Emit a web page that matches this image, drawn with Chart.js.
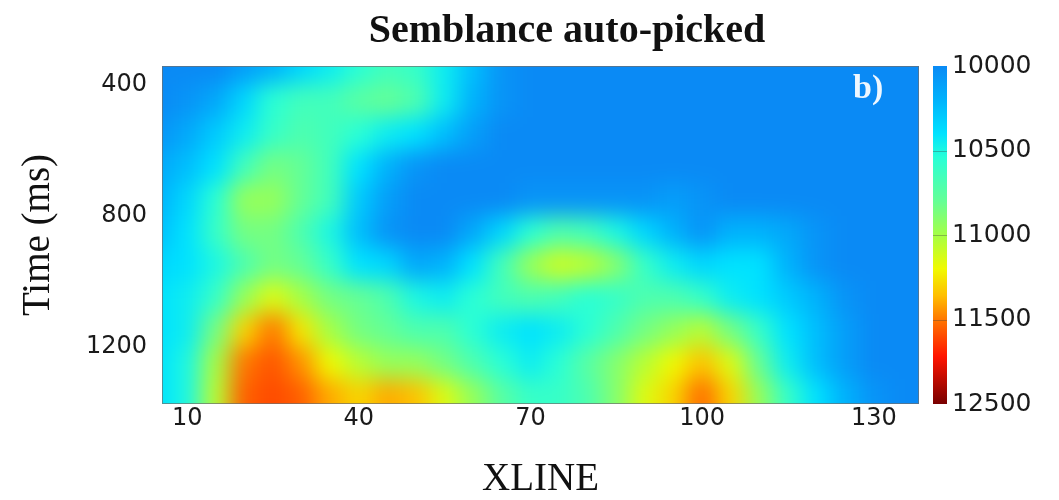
<!DOCTYPE html>
<html>
<head>
<meta charset="utf-8">
<script src="https://cdn.jsdelivr.net/npm/chart.js@4/dist/chart.umd.min.js"></script>
<style>
  html, body { margin: 0; padding: 0; background: #ffffff; }
  #wrap { width: 1059px; height: 500px; }
</style>
</head>
<body>
<div id="wrap"><canvas id="chart" width="1059" height="500"></canvas></div>
<script>
// Grid of picked velocities: one row per time sample, one column per crossline
const xlines = [5, 10, 15, 20, 25, 30, 35, 40, 45, 50, 55, 60, 65, 70, 75, 80, 85, 90, 95, 100, 105, 110, 115, 120, 125, 130, 135, 140];
const times = [350, 450, 550, 650, 750, 850, 950, 1050, 1150, 1250, 1350];

const t0350 = [10000, 10000, 10000, 10100, 10200, 10350, 10450, 10550, 10650, 10600, 10450, 10250, 10050, 10000, 10000, 10000, 10000, 10000, 10000, 10000, 10000, 10000, 10000, 10000, 10000, 10000, 10000, 10000];
const t0450 = [10000, 10050, 10150, 10350, 10550, 10650, 10650, 10750, 10800, 10700, 10450, 10200, 10050, 10000, 10000, 10000, 10000, 10000, 10000, 10000, 10000, 10000, 10000, 10000, 10000, 10000, 10000, 10000];
const t0550 = [10050, 10150, 10300, 10450, 10600, 10700, 10650, 10550, 10450, 10400, 10250, 10100, 10000, 10000, 10000, 10000, 10000, 10000, 10000, 10000, 10000, 10000, 10000, 10000, 10000, 10000, 10000, 10000];
const t0650 = [10150, 10250, 10400, 10650, 10850, 10800, 10650, 10400, 10200, 10050, 10000, 10000, 10000, 10000, 10000, 10000, 10000, 10000, 10000, 10000, 10000, 10000, 10000, 10000, 10000, 10000, 10000, 10000];
const t0750 = [10200, 10350, 10550, 10950, 10950, 10800, 10650, 10300, 10100, 10000, 10000, 10000, 10000, 10050, 10050, 10050, 10050, 10050, 10100, 10050, 10000, 10000, 10000, 10000, 10000, 10000, 10000, 10000];
const t0850 = [10250, 10400, 10600, 10850, 10850, 10700, 10500, 10250, 10050, 10000, 10000, 10150, 10350, 10550, 10700, 10650, 10500, 10350, 10200, 10050, 10200, 10200, 10150, 10050, 10000, 10000, 10000, 10000];
const t0950 = [10350, 10400, 10500, 10700, 10850, 10800, 10600, 10400, 10350, 10150, 10200, 10400, 10650, 10950, 11100, 11050, 10900, 10600, 10450, 10350, 10400, 10400, 10200, 10050, 10000, 10000, 10000, 10000];
const t1050 = [10400, 10450, 10600, 10950, 11150, 11000, 10850, 10800, 10700, 10500, 10450, 10550, 10650, 10700, 10650, 10550, 10600, 10700, 10700, 10600, 10450, 10400, 10300, 10200, 10050, 10000, 10000, 10000];
const t1150 = [10400, 10450, 10850, 11300, 11500, 11250, 11000, 10850, 10800, 10700, 10700, 10550, 10450, 10400, 10450, 10550, 10700, 10850, 10950, 11050, 10850, 10600, 10400, 10250, 10100, 10000, 10000, 10000];
const t1250 = [10400, 10500, 11000, 11500, 11650, 11450, 11200, 11050, 10950, 10950, 10850, 10700, 10550, 10450, 10550, 10750, 10900, 11050, 11200, 11350, 11150, 10800, 10450, 10250, 10100, 10000, 10000, 10000];
const t1350 = [10400, 10500, 11050, 11600, 11700, 11600, 11400, 11300, 11400, 11350, 11150, 10950, 10750, 10600, 10600, 10700, 10900, 11150, 11300, 11550, 11300, 10950, 10600, 10400, 10200, 10050, 10000, 10000];

const velocityRows = [t0350, t0450, t0550, t0650, t0750, t0850, t0950, t1050, t1150, t1250, t1350];

const xTicks = [10, 40, 70, 100, 130];
const yTicks = [400, 800, 1200];
const cbarValues = [10000, 10500, 11000, 11500, 12500];
const cbarLabels = cbarValues.map(String);

// Colour ramp (position along the colour bar, rgb)
const rampStops = [
  [0.00, [10, 138, 245]],
  [0.10, [0, 178, 252]],
  [0.20, [0, 226, 255]],
  [0.27, [40, 255, 215]],
  [0.40, [100, 255, 150]],
  [0.50, [165, 255, 70]],
  [0.60, [240, 250, 0]],
  [0.68, [255, 190, 0]],
  [0.76, [255, 110, 0]],
  [0.86, [255, 20, 0]],
  [1.00, [120, 0, 0]]
];

function rampColor(f) {
  f = Math.max(0, Math.min(1, f));
  for (let i = 1; i < rampStops.length; i++) {
    const [p1, c1] = rampStops[i];
    const [p0, c0] = rampStops[i - 1];
    if (f <= p1) {
      const k = (f - p0) / (p1 - p0);
      const c = c0.map((v, j) => Math.round(v + (c1[j] - v) * k));
      return 'rgb(' + c.join(',') + ')';
    }
  }
  return 'rgb(' + rampStops[rampStops.length - 1][1].join(',') + ')';
}

// The colour bar ticks are evenly spaced, so map a value piecewise between them
function barFraction(v) {
  const n = cbarValues.length - 1;
  if (v <= cbarValues[0]) return 0;
  for (let i = 1; i <= n; i++) {
    if (v <= cbarValues[i]) {
      return (i - 1 + (v - cbarValues[i - 1]) / (cbarValues[i] - cbarValues[i - 1])) / n;
    }
  }
  return 1;
}

const cells = [];
times.forEach((t, i) => {
  xlines.forEach((x, j) => cells.push({ x: x, y: t, v: velocityRows[i][j] }));
});

const halfX = (xlines[1] - xlines[0]) / 2;
const halfY = (times[1] - times[0]) / 2;

// Paints the velocity cells through the chart scales, then softens them
const heatmapPlugin = {
  id: 'heatmap',
  beforeDatasetsDraw(chart) {
    const { ctx, chartArea: a } = chart;
    const xs = chart.scales.x, ys = chart.scales.y;
    const off = document.createElement('canvas');
    off.width = chart.width;
    off.height = chart.height;
    const o = off.getContext('2d');
    const bleed = 45;
    chart.data.datasets[0].data.forEach(p => {
      let x0 = xs.getPixelForValue(p.x - halfX);
      let x1 = xs.getPixelForValue(p.x + halfX);
      let y0 = ys.getPixelForValue(p.y - halfY);
      let y1 = ys.getPixelForValue(p.y + halfY);
      if (p.x === xlines[0]) x0 -= bleed;
      if (p.x === xlines[xlines.length - 1]) x1 += bleed;
      if (p.y === times[0]) y0 -= bleed;
      if (p.y === times[times.length - 1]) y1 += bleed;
      o.fillStyle = rampColor(barFraction(p.v));
      o.fillRect(Math.floor(x0), Math.floor(y0), Math.ceil(x1 - x0) + 1, Math.ceil(y1 - y0) + 1);
    });
    ctx.save();
    ctx.beginPath();
    ctx.rect(a.left, a.top, a.right - a.left, a.bottom - a.top);
    ctx.clip();
    ctx.filter = 'blur(11px)';
    ctx.drawImage(off, 0, 0);
    ctx.restore();
  },
  afterDraw(chart) {
    const { ctx, chartArea: a } = chart;
    const cb = chart.scales.cbar;

    // plot frame
    ctx.save();
    ctx.strokeStyle = 'rgba(110,110,110,0.7)';
    ctx.lineWidth = 1;
    ctx.strokeRect(a.left + 0.5, a.top + 0.5, a.right - a.left - 1, a.bottom - a.top - 1);
    ctx.restore();

    // panel letter
    ctx.save();
    ctx.font = 'bold 34px "Liberation Serif"';
    ctx.fillStyle = '#eef7ff';
    ctx.textAlign = 'left';
    ctx.textBaseline = 'alphabetic';
    ctx.fillText('b)', a.right - 66, a.top + 32);
    ctx.restore();

    // colour bar, lowest value at the top
    const bx = cb.left + 14, bw = 14;
    const yStart = cb.getPixelForValue(0);
    const yEnd = cb.getPixelForValue(cbarLabels.length - 1);
    const top = Math.min(yStart, yEnd), bottom = Math.max(yStart, yEnd);
    const g = ctx.createLinearGradient(0, yStart, 0, yEnd);
    rampStops.forEach(([p]) => g.addColorStop(p, rampColor(p)));
    ctx.save();
    ctx.fillStyle = g;
    ctx.fillRect(bx, top, bw, bottom - top);
    ctx.strokeStyle = 'rgba(60,60,60,0.35)';
    ctx.lineWidth = 1;
    for (let i = 1; i < cbarLabels.length - 1; i++) {
      const y = Math.round(cb.getPixelForValue(i)) + 0.5;
      ctx.beginPath();
      ctx.moveTo(bx, y);
      ctx.lineTo(bx + bw, y);
      ctx.stroke();
    }
    ctx.restore();
  }
};

const tickFont = { family: 'DejaVu Sans', size: 24 };

new Chart(document.getElementById('chart'), {
  type: 'scatter',
  data: {
    datasets: [{
      label: 'Velocity',
      data: cells,
      pointRadius: 0,
      pointHoverRadius: 0,
      showLine: false
    }]
  },
  options: {
    responsive: false,
    animation: false,
    events: [],
    layout: { padding: { left: 75, right: 0, top: 0, bottom: 0 } },
    plugins: {
      legend: { display: false },
      tooltip: { enabled: false },
      title: {
        display: true,
        text: 'Semblance auto-picked',
        color: '#111111',
        font: { family: 'Liberation Serif', size: 40, weight: 'bold' },
        padding: { top: 8, bottom: 10 }
      }
    },
    scales: {
      x: {
        type: 'linear',
        min: 5.6,
        max: 137.9,
        afterBuildTicks: s => { s.ticks = xTicks.map(v => ({ value: v })); },
        afterFit: s => { s.height = 96; },
        ticks: { font: tickFont, color: '#1a1a1a', padding: 0, maxRotation: 0, autoSkip: false, callback: v => String(v) },
        grid: { display: false, drawTicks: false },
        border: { display: false },
        title: {
          display: true,
          text: 'XLINE',
          color: '#111111',
          font: { family: 'Liberation Serif', size: 39 },
          padding: { top: 0, bottom: -3 }
        }
      },
      y: {
        type: 'linear',
        reverse: true,
        min: 342,
        max: 1374,
        afterBuildTicks: s => { s.ticks = yTicks.map(v => ({ value: v })); },
        afterFit: s => { s.width = 87; },
        ticks: { font: tickFont, color: '#1a1a1a', padding: 15, autoSkip: false, callback: v => String(v) },
        grid: { display: false, drawTicks: false },
        border: { display: false },
        title: {
          display: true,
          text: 'Time (ms)',
          color: '#111111',
          font: { family: 'Liberation Serif', size: 39 },
          padding: { top: -60, bottom: 0 }
        }
      },
      cbar: {
        type: 'category',
        axis: 'y',
        position: 'right',
        labels: cbarLabels,
        offset: false,
        afterFit: s => { s.width = 140; },
        ticks: { font: { family: 'DejaVu Sans', size: 25 }, color: '#1a1a1a', padding: 33, autoSkip: false },
        grid: { display: false, drawTicks: false },
        border: { display: false }
      }
    }
  },
  plugins: [heatmapPlugin]
});
</script>
</body>
</html>
